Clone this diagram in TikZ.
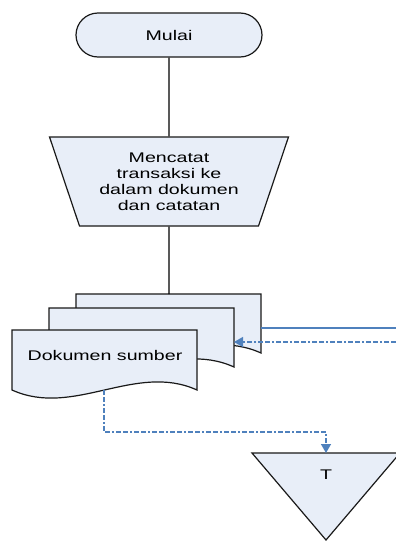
\documentclass[tikz,border=0pt]{standalone}
\usepackage{fontspec}
\setmainfont{Liberation Sans}[FakeStretch=1.4]
\usetikzlibrary{shapes.geometric,arrows.meta}
\definecolor{shapefill}{RGB}{232,238,248}
\definecolor{linkblue}{RGB}{79,129,189}
\tikzset{
  box/.style={draw=black!90,fill=shapefill,line width=1.2pt},
  link/.style={draw=linkblue,line width=1.4pt},
  dashlink/.style={link,dash pattern=on 5pt off 2pt on 5pt off 2pt on 2pt off 2pt,-{Triangle[length=9pt,width=10pt]}}
}
\begin{document}
\begin{tikzpicture}[x=1pt,y=-1pt,font=\fontsize{14}{16}\selectfont]
\useasboundingbox (0,0) rectangle (396,541);

\draw (169,35) node[box,rounded corners=22pt,minimum width=186pt,minimum height=44pt] (mulai) {Mulai};
\draw (169,181.5) node[box,trapezium,shape border rotate=180,trapezium left angle=68,trapezium right angle=68,trapezium stretches=true,minimum width=239pt,minimum height=89pt,align=center,inner sep=0pt] (catat) {Mencatat\\transaksi ke\\dalam dokumen\\dan catatan};

\draw[box] (76,294) -- (261,294) -- (261,353) .. controls (199.3,325) and (137.7,381) .. (76,353) -- cycle;
\draw[box] (49,308) -- (234,308) -- (234,367) .. controls (172.3,339) and (110.7,395) .. (49,367) -- cycle;
\draw[box] (12,330) -- (197,330) -- (197,390) .. controls (135.3,362) and (73.7,418) .. (12,390) -- cycle;
\draw (105,355) node (sumber) {Dokumen sumber};
\coordinate (doc3top) at (169,294);
\coordinate (doc3right) at (261,328);
\coordinate (doc2right) at (234,342);
\coordinate (doc1bottom) at (104,390);

\draw[box] (252,453) -- (400,453) -- (326,540) -- cycle;
\draw (326,475) node (t) {T};
\coordinate (ttop) at (326,453);
\coordinate (luar1) at (396,328);
\coordinate (luar2) at (396,342);
\coordinate (belok) at (104,432);

\draw[line width=1.2pt] (mulai.south) -- (catat.north);
\draw[line width=1.2pt] (catat.south) -- (doc3top);
\draw[link] (doc3right) -- (luar1);
\draw[dashlink] (luar2) -- (doc2right);
\draw[dashlink] (doc1bottom) -- (belok) -| (ttop);
\end{tikzpicture}
\end{document}
